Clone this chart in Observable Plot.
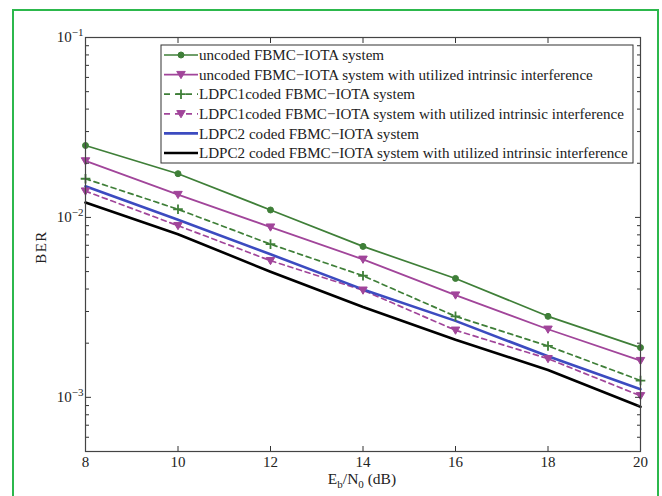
<!DOCTYPE html>
<html>
<head>
<meta charset="utf-8">
<script src="https://cdn.jsdelivr.net/npm/d3@7"></script>
<script src="https://cdn.jsdelivr.net/npm/@observablehq/plot@0.6"></script>
<style>
  html, body { margin: 0; padding: 0; background: #fff; }
  #wrap { position: relative; width: 662px; height: 496px; overflow: hidden; background: #fff; }
  #border { position: absolute; left: 12px; top: 9px; width: 643px; height: 600px; border: 2px solid #2cb84c; pointer-events: none; }
</style>
</head>
<body>
<div id="wrap"><div id="border"></div></div>
<script>
// ---- data ----
const snr = [8, 10, 12, 14, 16, 18, 20];
const uncoded      = [0.0251, 0.0175, 0.0110, 0.0069, 0.00458, 0.00282, 0.00189];
const uncodedII    = [0.0206, 0.0134, 0.00883, 0.00585, 0.0037, 0.00239, 0.0016];
const ldpc1        = [0.0164, 0.0111, 0.0071, 0.00474, 0.00282, 0.00193, 0.00124];
const ldpc1II      = [0.0140, 0.0090, 0.00575, 0.00394, 0.00236, 0.00164, 0.00102];
const ldpc2        = [0.0149, 0.0097, 0.00624, 0.00398, 0.00266, 0.00169, 0.00111];
const ldpc2II      = [0.0121, 0.00807, 0.00499, 0.00318, 0.00209, 0.00142, 0.000887];
const seriesNames = [
  "uncoded FBMC\u2212IOTA system",
  "uncoded FBMC\u2212IOTA system with utilized intrinsic interference",
  "LDPC1coded FBMC\u2212IOTA system",
  "LDPC1coded FBMC\u2212IOTA system with utilized intrinsic interference",
  "LDPC2 coded FBMC\u2212IOTA system",
  "LDPC2 coded FBMC\u2212IOTA system with utilized intrinsic interference"
];
const seriesValues = [uncoded, uncodedII, ldpc1, ldpc1II, ldpc2, ldpc2II];
const xTicks = [8, 10, 12, 14, 16, 18, 20];
const yMajor = [0.001, 0.01, 0.1];
const yMajorLabels = ["10^-3", "10^-2", "10^-1"];
const yMinor = [0.0005, 0.0006, 0.0007, 0.0008, 0.0009,
                0.002, 0.003, 0.004, 0.005, 0.006, 0.007, 0.008, 0.009,
                0.02, 0.03, 0.04, 0.05, 0.06, 0.07, 0.08, 0.09];

// ---- styles ----
const triDown = {
  draw(ctx, size) {
    const r = Math.sqrt(size / Math.PI);
    const h = r * 1.15;
    ctx.moveTo(-h, -h * 0.75);
    ctx.lineTo(h, -h * 0.75);
    ctx.lineTo(0, h * 0.95);
    ctx.closePath();
  }
};
const styles = [
  {color: "#3f7f38", dash: null,  width: 1.7, marker: "circle", r: 3},
  {color: "#a1459a", dash: null,  width: 1.8, marker: triDown,  r: 3.7},
  {color: "#3f7f38", dash: "5,4", width: 1.7, marker: "plus",   r: 3.2},
  {color: "#a1459a", dash: "5,4", width: 1.7, marker: triDown,  r: 3.7},
  {color: "#3c4bc0", dash: null,  width: 2.6, marker: null},
  {color: "#000000", dash: null,  width: 2.6, marker: null}
];

const rows = seriesValues.map((vals, i) => vals.map((v, j) => ({snr: snr[j], ber: v, series: seriesNames[i]})));

const lineMarks = [];
rows.forEach((data, i) => {
  const s = styles[i];
  lineMarks.push(Plot.line(data, {x: "snr", y: "ber", stroke: s.color, strokeWidth: s.width, strokeDasharray: s.dash}));
});
rows.forEach((data, i) => {
  const s = styles[i];
  if (!s.marker) return;
  if (s.marker === "plus") {
    lineMarks.push(Plot.dot(data, {x: "snr", y: "ber", symbol: "plus", r: s.r, stroke: s.color, strokeWidth: 1.8}));
  } else {
    lineMarks.push(Plot.dot(data, {x: "snr", y: "ber", symbol: s.marker, r: s.r, fill: s.color, stroke: s.color, strokeWidth: 1}));
  }
});

const chart = Plot.plot({
  width: 662,
  height: 496,
  marginLeft: 85,
  marginRight: 22,
  marginTop: 37,
  marginBottom: 45,
  style: {fontFamily: "'Liberation Serif', 'Times New Roman', serif", fontSize: "15px", background: "transparent", color: "#222"},
  x: {domain: [8, 20], label: null},
  y: {type: "log", domain: [0.0005, 0.1], label: null},
  marks: [
    ...lineMarks,
    Plot.axisX({anchor: "bottom", ticks: xTicks, tickSize: 5, dy: -5, tickPadding: 5, label: null, stroke: "#333"}),
    Plot.axisX({anchor: "top", ticks: xTicks, tickSize: 5, dy: 5, tickFormat: () => "", label: null, stroke: "#333"}),
    Plot.axisY({anchor: "left", ticks: yMinor, tickSize: 4, dx: 4, tickFormat: () => "", label: null, stroke: "#333"}),
    Plot.axisY({anchor: "right", ticks: yMinor, tickSize: 4, dx: -4, tickFormat: () => "", label: null, stroke: "#333"}),
    Plot.axisY({anchor: "left", ticks: yMajor, tickSize: 6, dx: 6, tickPadding: 2,
      tickFormat: d => yMajorLabels[yMajor.indexOf(d)], label: null, stroke: "#333"}),
    Plot.axisY({anchor: "right", ticks: yMajor, tickSize: 6, dx: -6, tickFormat: () => "", label: null, stroke: "#333"}),
    Plot.frame({stroke: "#444", strokeWidth: 1.2})
  ]
});

document.getElementById("wrap").insertBefore(chart, document.getElementById("border"));

const svg = d3.select(chart);

svg.selectAll("text").each(function() {
  const t = d3.select(this);
  const s = t.text();
  const m = /^10\^(-?\d+)$/.exec(s);
  if (!m) return;
  t.text(null);
  t.append("tspan").text("10");
  t.append("tspan").attr("dy", "-0.55em").attr("font-size", "11px").text(m[1].replace("-", "\u2212"));
});

svg.append("text")
  .attr("transform", "translate(46,247) rotate(-90)")
  .attr("text-anchor", "middle")
  .attr("font-size", 15)
  .attr("letter-spacing", 1.5)
  .attr("fill", "#222")
  .text("BER");

const xl = svg.append("text")
  .attr("x", 362).attr("y", 484)
  .attr("text-anchor", "middle")
  .attr("font-size", 15.5)
  .attr("fill", "#222");
xl.append("tspan").text("E");
xl.append("tspan").attr("dy", 4).attr("font-size", 11).text("b");
xl.append("tspan").attr("dy", -4).text("/N");
xl.append("tspan").attr("dy", 4).attr("font-size", 11).text("0");
xl.append("tspan").attr("dy", -4).text(" (dB)");

// legend
const lg = svg.append("g").attr("class", "legend").attr("text-anchor", "start");
const lx = 161, ly = 45, lw = 472, lh = 118;
lg.append("rect").attr("x", lx).attr("y", ly).attr("width", lw).attr("height", lh)
  .attr("fill", "#fff").attr("stroke", "#333").attr("stroke-width", 1);
const sym = {circle: d3.symbolCircle, plus: d3.symbolPlus};
seriesNames.forEach((name, i) => {
  const s = styles[i];
  const y = 55 + i * 19.6;
  lg.append("line").attr("x1", 164).attr("x2", 198).attr("y1", y).attr("y2", y)
    .attr("stroke", s.color).attr("stroke-width", s.width)
    .attr("stroke-dasharray", s.dash ? "6,5" : null);
  if (s.marker) {
    const type = typeof s.marker === "string" ? sym[s.marker] : s.marker;
    const p = d3.symbol(type, Math.PI * s.r * s.r)();
    const g = lg.append("path").attr("d", p).attr("transform", `translate(181,${y})`);
    if (s.marker === "plus") g.attr("fill", "none").attr("stroke", s.color).attr("stroke-width", 1.8);
    else g.attr("fill", s.color).attr("stroke", s.color);
  }
  lg.append("text").attr("x", 199).attr("y", y).attr("dy", "0.35em")
    .attr("text-anchor", "start")
    .attr("font-size", 15.1).attr("fill", "#222").text(name);
});
</script>
</body>
</html>
